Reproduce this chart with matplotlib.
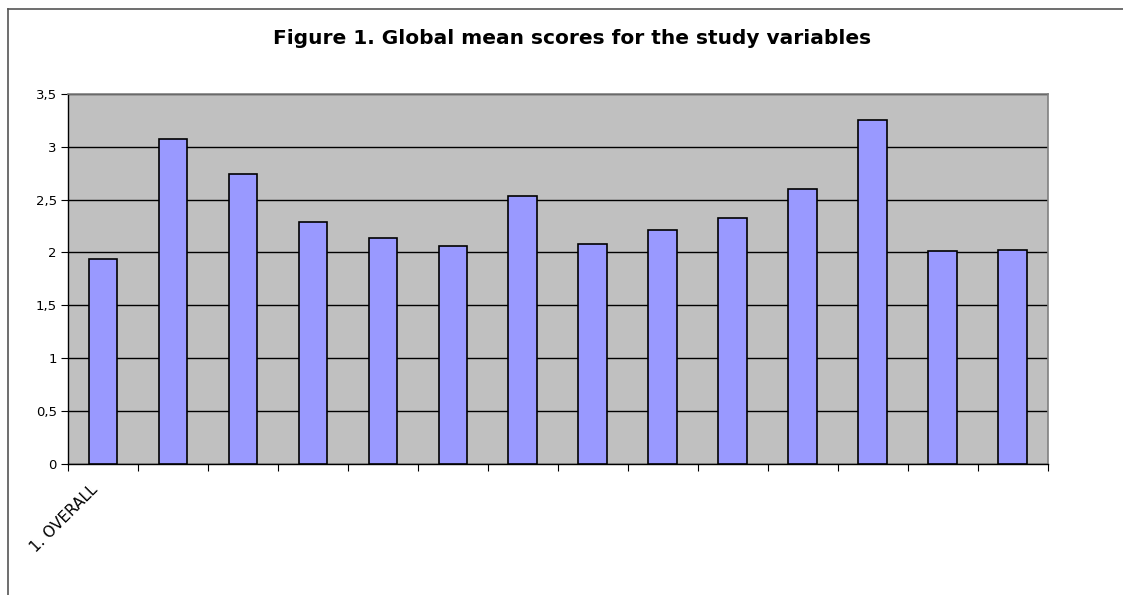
import numpy as np
import matplotlib.pyplot as plt
from matplotlib.lines import Line2D
from matplotlib.ticker import FuncFormatter
from matplotlib.transforms import ScaledTranslation

plt.rcParams['font.family'] = ['DejaVu Sans']

# mean score per study variable
variables = ['1. OVERALL', '', '', '', '', '', '', '', '', '', '', '', '', '']
means = [1.94, 3.07, 2.74, 2.29, 2.14, 2.06, 2.53, 2.08, 2.21, 2.33, 2.60, 3.25, 2.01, 2.02]
y_ticks = [0, 0.5, 1, 1.5, 2, 2.5, 3, 3.5]

fig = plt.figure(figsize=(11.23, 5.95), dpi=100)
ax = fig.add_axes([0.0606, 0.221, 0.8722, 0.621])
ax.set_facecolor('#c0c0c0')

x = np.arange(len(means))
ax.bar(x, means, width=0.41, color='#9999ff', edgecolor='black', linewidth=1.2, zorder=3)

ax.set_xlim(-0.5, len(means) - 0.5)
ax.set_ylim(0, 3.5)
ax.set_yticks(y_ticks)
ax.yaxis.set_major_formatter(FuncFormatter(lambda v, p: ('%g' % v).replace('.', ',')))
ax.grid(axis='y', color='black', linewidth=1, zorder=1)

# category boundaries carry the tick marks, labels sit at the centres
ax.set_xticks(np.arange(-0.5, len(means)), labels=[])
ax.set_xticks(x, labels=variables, minor=True)
ax.tick_params(axis='x', which='major', length=5, direction='out', color='black')
ax.tick_params(axis='x', which='minor', length=0, pad=11)
ax.tick_params(axis='y', length=5, direction='out', labelsize=9.5, pad=3)
shift = ScaledTranslation(-0.13, -0.03, fig.dpi_scale_trans)
for lab in ax.get_xticklabels(minor=True):
    lab.set_rotation(45)
    lab.set_ha('right')
    lab.set_rotation_mode('anchor')
    lab.set_fontsize(11)
    lab.set_transform(lab.get_transform() + shift)

for side in ('top', 'right'):
    ax.spines[side].set_color('#808080')
    ax.spines[side].set_linewidth(1.2)
for side in ('left', 'bottom'):
    ax.spines[side].set_color('black')
    ax.spines[side].set_linewidth(1)

fig.text(0.509, 0.936, 'Figure 1. Global mean scores for the study variables',
         ha='center', va='center', fontsize=14.5, fontweight='bold')

# chart frame (top and left edges)
fig.add_artist(Line2D([0.0067, 1.0], [0.985, 0.985], color='#555555', linewidth=1.2))
fig.add_artist(Line2D([0.0067, 0.0067], [0.0, 0.985], color='#555555', linewidth=1.2))

fig.savefig('out.png', dpi=100)
